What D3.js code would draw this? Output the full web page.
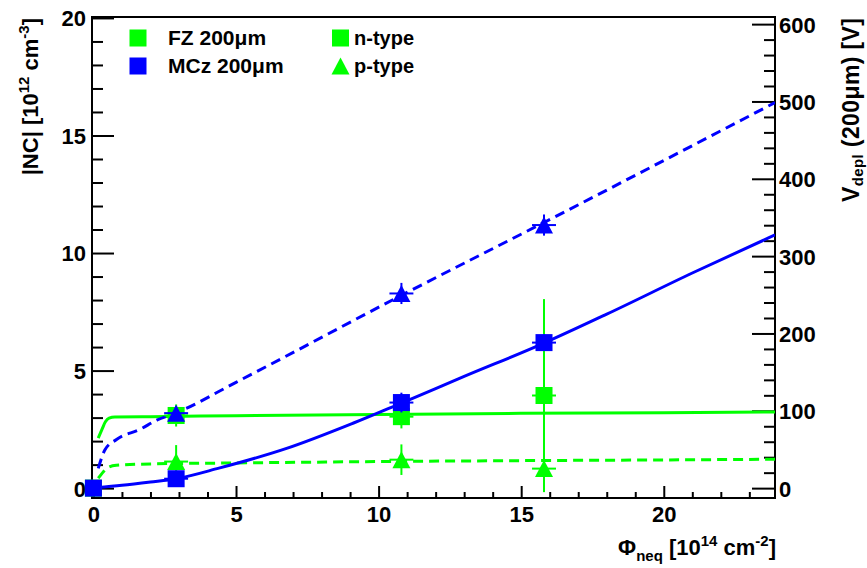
<!DOCTYPE html>
<html><head><meta charset="utf-8">
<script src="https://cdn.jsdelivr.net/npm/d3@7"></script>
<style>
body{margin:0;background:#fff}
text{font-family:"Liberation Sans",Arial,Helvetica,sans-serif;font-weight:bold;fill:#000}
</style>
</head><body><svg id="c" width="867" height="568"></svg>
<script>
// ---- data ----
const fluenceN = [0, 2.9, 10.8, 15.8];          // 10^14 cm^-2
const fzN      = [0, 3.09, 3.04, 3.94];          // |NC| 10^12 cm^-3, FZ n-type
const fzNErr   = [0, 0.47, 0.5, 4.1];
const mczN     = [0, 0.40, 3.64, 6.19];          // MCz n-type
const mczNErr  = [0, 0.15, 0.42, 0.35];
const fluenceP = [2.9, 10.8, 15.8];
const fzP      = [1.13, 1.21, 0.83];             // FZ p-type
const fzPErr   = [0.7, 0.65, 1.0];
const mczP     = [3.19, 8.28, 11.19];            // MCz p-type
const mczPErr  = [0.3, 0.45, 0.45];
const fluenceErr = 0.42;

// fitted curves, read as points from the picture
const fzNFit  = [[0.17,2.13],[0.3,2.5],[0.42,2.82],[0.55,2.98],[0.75,3.03],[2,3.04],[5,3.08],[10,3.13],[15,3.18],[20,3.21],[23.9,3.24]];
const fzPFit  = [[0.17,0.42],[0.35,0.7],[0.52,0.88],[0.8,0.97],[2,1.03],[5,1.07],[10,1.13],[15,1.17],[20,1.2],[23.9,1.23]];
const mczNFit = [[0.1,0.02],[1,0.12],[2,0.26],[2.9,0.4],[4.4,0.85],[6.8,1.7],[9.1,2.76],[10.8,3.62],[13,4.75],[15.8,6.17],[18,7.4],[21,9.15],[23.9,10.77]];
const mczPFit = [[0.17,0.84],[0.4,1.62],[0.81,2.07],[1.63,2.5],[2.22,2.89],[2.9,3.2],[5,4.5],[10.8,8.2],[15.8,11.3],[23.9,16.4]];

const xMajor = [0,5,10,15,20];
const xMinor = [1,2,3,4,6,7,8,9,11,12,13,14,16,17,18,19,21,22,23];
const yMajor = [0,5,10,15,20];
const yMinor = [1,2,3,4,6,7,8,9,11,12,13,14,16,17,18,19];
const vMajor = [0,100,200,300,400,500,600];
const vMinor = [20,40,60,80,120,140,160,180,220,240,260,280,320,340,360,380,420,440,460,480,520,540,560,580];
const voltPerNC = 30.4; // V per 10^12 cm^-3 for 200 um

const GREEN = "#00ff00", BLUE = "#0000ff";

// ---- layout ----
const svg = d3.select("#c");
const L = 92, R = 775, T = 17, B = 498;
const x  = d3.scaleLinear().domain([-0.05, 23.9]).range([L, R]);
const y  = d3.scaleLinear().domain([-0.42, 20.04]).range([B, T]);
const yv = d3.scaleLinear().domain([-0.42*voltPerNC, 20.04*voltPerNC]).range([B, T]);

svg.append("rect").attr("width",867).attr("height",568).attr("fill","#fff");
svg.append("defs").append("clipPath").attr("id","plot")
  .append("rect").attr("x",L).attr("y",T).attr("width",R-L).attr("height",B-T);

function styleAxis(g){
  g.select(".domain").remove();
  g.selectAll("line").attr("stroke","#000").attr("stroke-width",2);
  g.selectAll("text").attr("font-size",22).attr("fill","#000")
    .style("font-family",'"Liberation Sans",Arial,sans-serif').style("font-weight","bold");
}

// bottom axis
const gx = svg.append("g").attr("transform",`translate(0,${B})`)
  .call(d3.axisBottom(x).tickValues(xMajor).tickSize(-12).tickSizeOuter(0).tickFormat(d3.format("d")));
styleAxis(gx); gx.selectAll("text").attr("y",24).attr("dy",0);
const gxm = svg.append("g").attr("transform",`translate(0,${B})`)
  .call(d3.axisBottom(x).tickValues(xMinor).tickSize(-6).tickSizeOuter(0).tickFormat(""));
styleAxis(gxm);

// left axis
const gy = svg.append("g").attr("transform",`translate(${L},0)`)
  .call(d3.axisLeft(y).tickValues(yMajor).tickSize(-22).tickSizeOuter(0).tickFormat(d3.format("d")));
styleAxis(gy); gy.selectAll("text").attr("x",-6).attr("dy","0.36em");
const gym = svg.append("g").attr("transform",`translate(${L},0)`)
  .call(d3.axisLeft(y).tickValues(yMinor).tickSize(-11).tickSizeOuter(0).tickFormat(""));
styleAxis(gym);

// right axis
const gv = svg.append("g").attr("transform",`translate(${R},0)`)
  .call(d3.axisRight(yv).tickValues(vMajor).tickSize(-23).tickSizeOuter(0).tickFormat(d3.format("d")));
styleAxis(gv); gv.selectAll("text").attr("x",4).attr("dy","0.36em").attr("text-anchor","start");
const gvm = svg.append("g").attr("transform",`translate(${R},0)`)
  .call(d3.axisRight(yv).tickValues(vMinor).tickSize(-11).tickSizeOuter(0).tickFormat(""));
styleAxis(gvm);

// frame
svg.append("rect").attr("x",L).attr("y",T).attr("width",R-L).attr("height",B-T)
  .attr("fill","none").attr("stroke","#000").attr("stroke-width",2);

// ---- curves ----
const line = d3.line().x(d=>x(d[0])).y(d=>y(d[1])).curve(d3.curveMonotoneX);
const cg = svg.append("g").attr("clip-path","url(#plot)");
function curve(data,color,dashed){
  cg.append("path").attr("d",line(data)).attr("fill","none").attr("stroke",color)
    .attr("stroke-width",3).attr("stroke-dasharray",dashed?"10,6":null);
}
curve(fzNFit,GREEN,false);
curve(fzPFit,GREEN,true);
curve(mczNFit,BLUE,false);
curve(mczPFit,BLUE,true);

// ---- markers ----
const SQ = 17, TW = 18, TH = 17;
function triPath(cx,cy){ return `M${cx},${cy-TH/2}L${cx+TW/2},${cy+TH/2}L${cx-TW/2},${cy+TH/2}Z`; }
const mg = svg.append("g");
function series(xs,ys,errs,color,shape){
  xs.forEach((xv,i)=>{
    const cx = x(xv), cy = y(ys[i]);
    if(errs[i]>0){
      mg.append("line").attr("x1",cx).attr("x2",cx).attr("y1",y(ys[i]+errs[i])).attr("y2",y(ys[i]-errs[i]))
        .attr("stroke",color).attr("stroke-width",2);
    }
    if(xv>0){
      mg.append("line").attr("x1",x(xv-fluenceErr)).attr("x2",x(xv+fluenceErr)).attr("y1",cy).attr("y2",cy)
        .attr("stroke",color).attr("stroke-width",2);
    }
  });
  xs.forEach((xv,i)=>{
    const cx = x(xv), cy = y(ys[i]);
    if(shape==="sq") mg.append("rect").attr("x",cx-SQ/2).attr("y",cy-SQ/2).attr("width",SQ).attr("height",SQ).attr("fill",color);
    else mg.append("path").attr("d",triPath(cx,cy)).attr("fill",color);
  });
}
series(fluenceN,fzN,fzNErr,GREEN,"sq");
series(fluenceP,fzP,fzPErr,GREEN,"tri");
series(fluenceN,mczN,mczNErr,BLUE,"sq");
series(fluenceP,mczP,mczPErr,BLUE,"tri");

// ---- legend ----
const lg = svg.append("g");
lg.append("rect").attr("x",138-SQ/2).attr("y",38-SQ/2).attr("width",SQ).attr("height",SQ).attr("fill",GREEN);
lg.append("rect").attr("x",138-SQ/2).attr("y",66-SQ/2).attr("width",SQ).attr("height",SQ).attr("fill",BLUE);
lg.append("rect").attr("x",340.5-SQ/2).attr("y",38-SQ/2).attr("width",SQ).attr("height",SQ).attr("fill",GREEN);
lg.append("path").attr("d",triPath(340.5,66)).attr("fill",GREEN);
lg.append("text").attr("x",168).attr("y",45).attr("font-size",21).text("FZ 200μm");
lg.append("text").attr("x",168).attr("y",73).attr("font-size",21).text("MCz 200μm");
lg.append("text").attr("x",354).attr("y",45).attr("font-size",20).text("n-type");
lg.append("text").attr("x",354).attr("y",73).attr("font-size",20).text("p-type");

// ---- axis titles ----
const lt = svg.append("text").attr("transform","translate(38,18) rotate(-90)").attr("text-anchor","end").attr("font-size",22);
lt.append("tspan").text("|NC| [10");
lt.append("tspan").attr("dy",-9).attr("font-size",15).text("12");
lt.append("tspan").attr("dy",9).text(" cm");
lt.append("tspan").attr("dy",-9).attr("font-size",15).text("-3");
lt.append("tspan").attr("dy",9).text("]");

const rt = svg.append("text").attr("transform","translate(859,18) rotate(-90)").attr("text-anchor","end").attr("font-size",23);
rt.append("tspan").text("V");
rt.append("tspan").attr("dy",4).attr("font-size",15).text("depl");
rt.append("tspan").attr("dy",-4).text(" (200μm) [V]");
rt.attr("textLength",184).attr("lengthAdjust","spacing");

const xt = svg.append("text").attr("x",776).attr("y",555).attr("text-anchor","end").attr("font-size",22);
xt.append("tspan").text("Φ");
xt.append("tspan").attr("dy",6).attr("font-size",15).text("neq");
xt.append("tspan").attr("dy",-6).text(" [10");
xt.append("tspan").attr("dy",-9).attr("font-size",15).text("14");
xt.append("tspan").attr("dy",9).text(" cm");
xt.append("tspan").attr("dy",-9).attr("font-size",15).text("-2");
xt.append("tspan").attr("dy",9).text("]");
</script>
</body></html>
